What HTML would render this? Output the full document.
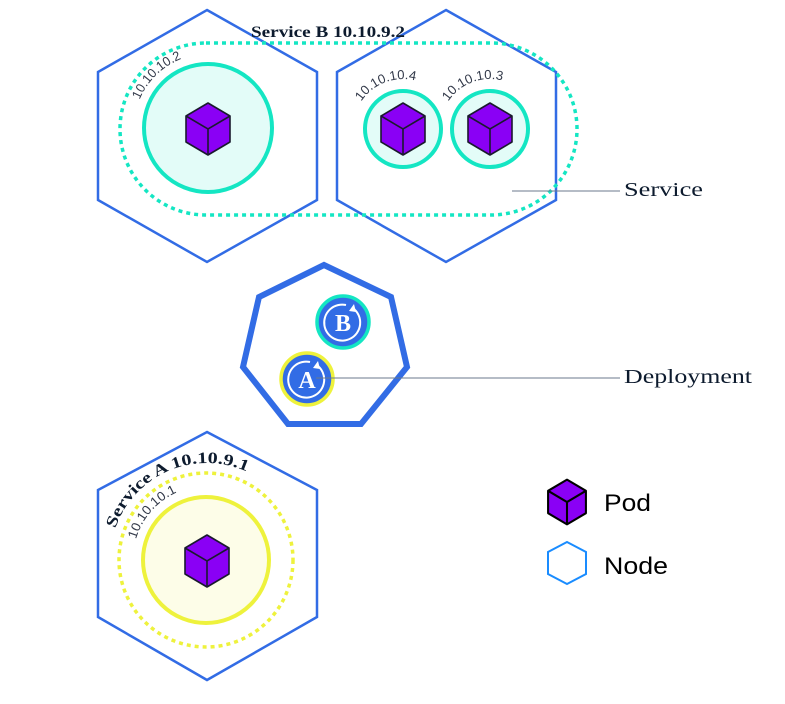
<!DOCTYPE html>
<html><head><meta charset="utf-8"><style>
html,body{margin:0;padding:0;background:#fff;}
svg{display:block;}
</style></head><body>
<svg width="785" height="704" viewBox="0 0 785 704" xmlns="http://www.w3.org/2000/svg">
<defs>
<g id="cube">
  <polygon points="0,-26 22,-13 22,13 0,26 -22,13 -22,-13" fill="#8a00f5" stroke="#1a1a2e" stroke-width="1.6" stroke-linejoin="round"/>
  <polyline points="-22,-13 0,0 22,-13" fill="none" stroke="#1a1a2e" stroke-width="1.6"/>
  <line x1="0" y1="0" x2="0" y2="26" stroke="#1a1a2e" stroke-width="1.6"/>
</g>
<path id="a1" d="M133,560 A74,74 0 0 1 281,560"/>
<path id="sa" d="M110,560 A97,97 0 0 1 304,560"/>
<path id="a2" d="M134,128 A74,74 0 0 1 282,128"/>
<path id="a4" d="M353,129 A50,50 0 0 1 453,129"/>
<path id="a3" d="M440,129 A50,50 0 0 1 540,129"/>
</defs>

<polygon points="207,10 317,72 317,200 207,262 98,200 98,72" fill="none" stroke="#326ce5" stroke-width="2.5"/>
<polygon points="446,10 556,72 556,200 446,262 337,200 337,72" fill="none" stroke="#326ce5" stroke-width="2.5"/>

<rect x="120" y="43" width="457" height="172" rx="86" ry="86" fill="none" stroke="#14e6c3" stroke-width="3.5" stroke-dasharray="4,4"/>

<circle cx="208" cy="128" r="64" fill="#e3fcf8" stroke="#14e6c3" stroke-width="4"/>
<circle cx="403" cy="129" r="38" fill="#e3fcf8" stroke="#14e6c3" stroke-width="4"/>
<circle cx="490" cy="129" r="38" fill="#e3fcf8" stroke="#14e6c3" stroke-width="4"/>
<use href="#cube" x="208" y="129"/>
<use href="#cube" x="403" y="129"/>
<use href="#cube" x="490" y="129"/>

<g font-family="Liberation Sans, sans-serif" font-size="13" fill="#333a4a" font-weight="300">
<text><textPath href="#a2" startOffset="29" textLength="60" lengthAdjust="spacingAndGlyphs">10.10.10.2</textPath></text>
<text><textPath href="#a4" startOffset="29" textLength="62" lengthAdjust="spacingAndGlyphs">10.10.10.4</textPath></text>
<text><textPath href="#a3" startOffset="29" textLength="62" lengthAdjust="spacingAndGlyphs">10.10.10.3</textPath></text>
<text><textPath href="#a1" startOffset="21" textLength="64" lengthAdjust="spacingAndGlyphs">10.10.10.1</textPath></text>
</g>

<text x="251" y="37" font-family="Liberation Serif, serif" font-weight="bold" font-size="16" fill="#0d1b2e" textLength="154" lengthAdjust="spacingAndGlyphs">Service B 10.10.9.2</text>

<line x1="512" y1="191" x2="620" y2="191" stroke="#6b7a8c" stroke-width="1"/>
<text x="624" y="196" font-family="Liberation Serif, serif" font-size="20" fill="#0d1b2e" textLength="79" lengthAdjust="spacingAndGlyphs">Service</text>

<polygon points="324,265 391,297 407,367 361,424 288,424 243,367 259,297" fill="none" stroke="#326ce5" stroke-width="6" stroke-linejoin="miter"/>

<circle cx="343" cy="322" r="26" fill="#326ce5" stroke="#14e6c3" stroke-width="3.5"/>
<circle cx="307" cy="379" r="26" fill="#326ce5" stroke="#eef23c" stroke-width="3.5"/>
<g fill="none" stroke="#fff" stroke-width="2">
<path d="M354,309 A18,18 0 1 1 346,305"/>
<path d="M318,366 A18,18 0 1 1 310,362"/>
</g>
<g fill="#fff">
<polygon points="354,304 356,312 349,311"/>
<polygon points="318,361 320,369 313,368"/>
</g>
<text x="343" y="331" text-anchor="middle" font-family="Liberation Serif, serif" font-weight="bold" font-size="24" fill="#fff">B</text>
<text x="307" y="388" text-anchor="middle" font-family="Liberation Serif, serif" font-weight="bold" font-size="24" fill="#fff">A</text>

<line x1="316" y1="378" x2="620" y2="378" stroke="#6b7a8c" stroke-width="1"/>
<text x="624" y="383" font-family="Liberation Serif, serif" font-size="20" fill="#0d1b2e" textLength="128" lengthAdjust="spacingAndGlyphs">Deployment</text>

<polygon points="207,432 317,490 317,617 207,680 98,617 98,490" fill="none" stroke="#326ce5" stroke-width="2.5"/>
<circle cx="206" cy="560" r="87" fill="none" stroke="#eef23c" stroke-width="3.5" stroke-dasharray="4,4"/>
<circle cx="206" cy="560" r="63" fill="#fdfde8" stroke="#eef23c" stroke-width="4"/>
<use href="#cube" x="207" y="561"/>
<text font-family="Liberation Serif, serif" font-weight="bold" font-size="16" fill="#0d1b2e"><textPath href="#sa" startOffset="32" textLength="161" lengthAdjust="spacingAndGlyphs">Service A  10.10.9.1</textPath></text>

<g transform="translate(567,502) scale(0.86)">
<polygon points="0,-26 22,-13 22,13 0,26 -22,13 -22,-13" fill="#8a00f5" stroke="#000" stroke-width="2.4" stroke-linejoin="round"/>
<polyline points="-22,-13 0,0 22,-13" fill="none" stroke="#000" stroke-width="2.4"/>
<line x1="0" y1="0" x2="0" y2="26" stroke="#000" stroke-width="2.4"/>
</g>
<polygon points="567,542 586,552 586,574 567,584 548,574 548,552" fill="none" stroke="#1a8cff" stroke-width="2"/>
<text x="604" y="511" font-family="Liberation Sans, sans-serif" font-size="24" fill="#000" textLength="47" lengthAdjust="spacingAndGlyphs">Pod</text>
<text x="604" y="574" font-family="Liberation Sans, sans-serif" font-size="24" fill="#000" textLength="64" lengthAdjust="spacingAndGlyphs">Node</text>
</svg>
</body></html>
